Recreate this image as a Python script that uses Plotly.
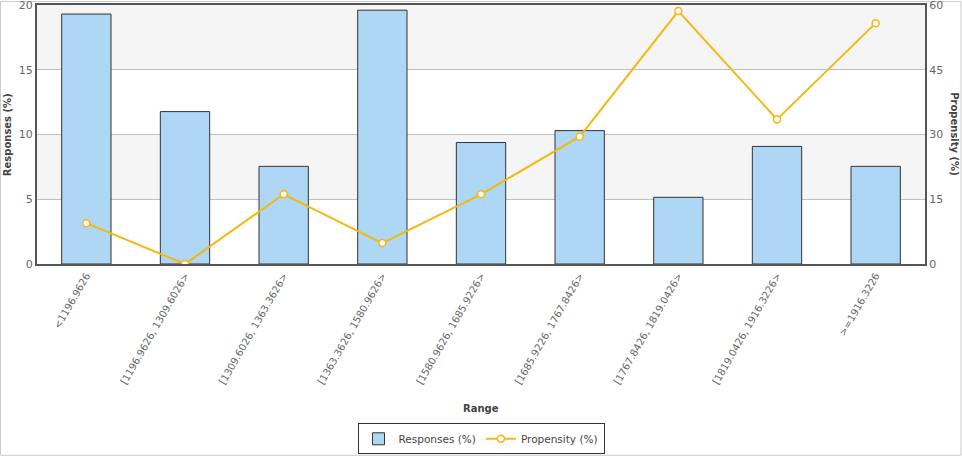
import plotly.graph_objects as go

categories = ["<1196.9626", "[1196.9626, 1309.6026>", "[1309.6026, 1363.3626>",
              "[1363.3626, 1580.9626>", "[1580.9626, 1685.9226>", "[1685.9226, 1767.8426>",
              "[1767.8426, 1819.0426>", "[1819.0426, 1916.3226>", ">=1916.3226"]
responses = [19.3, 11.77, 7.54, 19.6, 9.38, 10.3, 5.15, 9.08, 7.54]
propensity = [9.46, 0.0, 16.15, 4.85, 16.15, 29.5, 58.6, 33.5, 55.8]

font_family = "DejaVu Sans, Verdana, sans-serif"
tick_color = "#666666"

fig = go.Figure()
fig.add_trace(go.Bar(
    x=categories, y=responses, name="Responses (%)",
    marker=dict(color="#aed6f5", line=dict(color="#333333", width=1)),
    width=0.5, yaxis="y",
))
fig.add_trace(go.Scatter(
    x=categories, y=propensity, name="Propensity (%)", mode="lines+markers",
    line=dict(color="#f5b80e", width=2),
    marker=dict(color="white", size=7, line=dict(color="#f5b80e", width=1.5)),
    yaxis="y2",
))

shapes = [
    dict(type="rect", xref="paper", yref="y", x0=0, x1=1, y0=15, y1=20,
         fillcolor="#f5f5f5", line=dict(width=0), layer="below"),
    dict(type="rect", xref="paper", yref="y", x0=0, x1=1, y0=5, y1=10,
         fillcolor="#f5f5f5", line=dict(width=0), layer="below"),
    dict(type="rect", xref="paper", yref="paper", x0=-0.0411, x1=1.0405, y0=-0.7385, y1=1.0135,
         fillcolor="rgba(0,0,0,0)", line=dict(color="#cccccc", width=1), layer="below"),
]

fig.update_layout(
    width=962, height=457,
    margin=dict(l=37, r=37, t=5, b=193, autoexpand=False),
    paper_bgcolor="white", plot_bgcolor="white",
    font=dict(family=font_family, size=11, color=tick_color),
    showlegend=True,
    legend=dict(orientation="h", x=0.5, xanchor="center", y=-0.615, yanchor="top",
                bordercolor="#333333", borderwidth=1, bgcolor="white", itemwidth=30,
                font=dict(size=10.5, color="#444444")),
    xaxis=dict(
        type="category", tickangle=-60, showline=True, linecolor="#555555", linewidth=2,
        mirror=True, showgrid=False, ticks="", tickfont=dict(size=10, color=tick_color),
        range=[-0.5, 8.5], automargin=False,
    ),
    yaxis=dict(
        range=[0, 20], tickvals=[0, 5, 10, 15, 20], showline=True, linecolor="#555555",
        linewidth=2, showgrid=True, gridcolor="#c0c0c0", gridwidth=1, zeroline=False,
        ticks="", tickfont=dict(size=11, color=tick_color), ticklabeloverflow="allow",
        automargin=False,
    ),
    yaxis2=dict(
        range=[0, 60], tickvals=[0, 15, 30, 45, 60], overlaying="y", side="right",
        showline=True, linecolor="#555555", linewidth=2, showgrid=False, zeroline=False,
        ticks="", tickfont=dict(size=11, color=tick_color), ticklabeloverflow="allow",
        automargin=False,
    ),
    shapes=shapes,
    annotations=[
        dict(text="<b>Range</b>", xref="paper", yref="paper", x=0.5, y=-0.558,
             showarrow=False, font=dict(size=10, color="#444444"), yanchor="middle"),
        dict(text="<b>Responses (%)</b>", xref="paper", yref="paper", x=-0.033, y=0.5,
             showarrow=False, textangle=-90, font=dict(size=10, color="#444444"),
             xanchor="center", yanchor="middle"),
        dict(text="<b>Propensity (%)</b>", xref="paper", yref="paper", x=1.033, y=0.5,
             showarrow=False, textangle=90, font=dict(size=10, color="#444444"),
             xanchor="center", yanchor="middle"),
    ],
    bargap=0.5,
)

fig.write_html("out.html")
